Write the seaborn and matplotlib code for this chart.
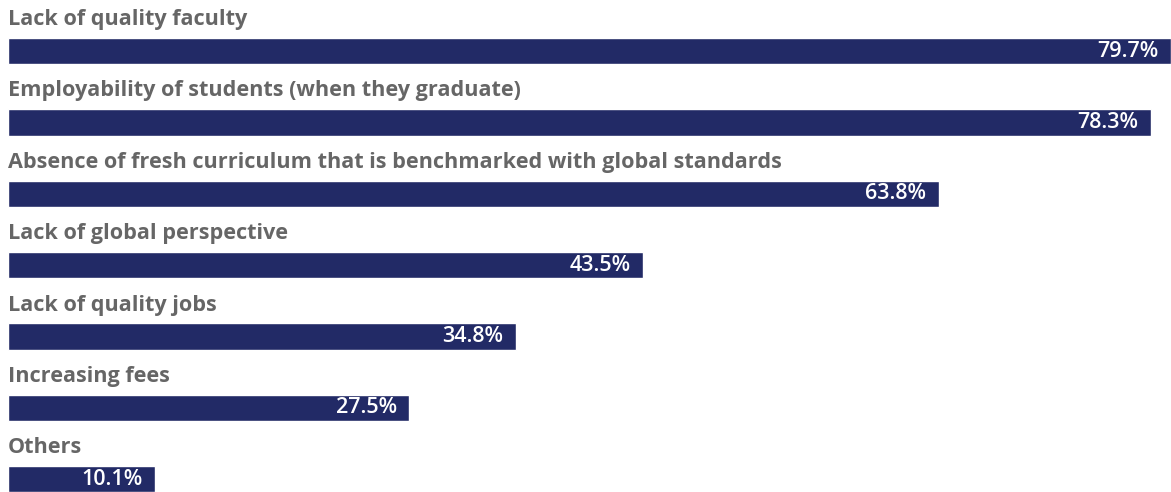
import matplotlib
matplotlib.use("Agg")
import matplotlib.pyplot as plt
import seaborn as sns
import pandas as pd

categories = [
    "Lack of quality faculty",
    "Employability of students (when they graduate)",
    "Absence of fresh curriculum that is benchmarked with global standards",
    "Lack of global perspective",
    "Lack of quality jobs",
    "Increasing fees",
    "Others",
]
values = [79.7, 78.3, 63.8, 43.5, 34.8, 27.5, 10.1]
value_labels = ["79.7%", "78.3%", "63.8%", "43.5%", "34.8%", "27.5%", "10.1%"]

df = pd.DataFrame({"category": categories, "value": values})

sns.set_theme(style="white")
plt.rcParams["font.family"] = ["Open Sans", "DejaVu Sans"]

W, H = 1171, 492
fig = plt.figure(figsize=(W / 100, H / 100), dpi=100)
ax = fig.add_axes([8 / W, 0, 1163 / W, 1])

sns.barplot(data=df, y="category", x="value", orient="h", color="#222a66",
            width=0.37, saturation=1, ax=ax)

ax.set_xlim(0, 79.7)
ax.set_ylim(6.18, -0.715)
ax.set_xlabel("")
ax.set_ylabel("")
ax.set_xticks([])
ax.set_yticks([])
for s in ax.spines.values():
    s.set_visible(False)

for i, (cat, v, lab) in enumerate(zip(categories, values, value_labels)):
    ax.text(0, i - 0.44, cat, ha="left", va="center", fontsize=15.6,
            fontweight="bold", color="#666666")
    ax.annotate(lab, xy=(v, i), xytext=(-9, 0), textcoords="offset points",
                ha="right", va="center", fontsize=15.5, color="white",
                fontweight="semibold")

fig.savefig("out.png", dpi=100)
